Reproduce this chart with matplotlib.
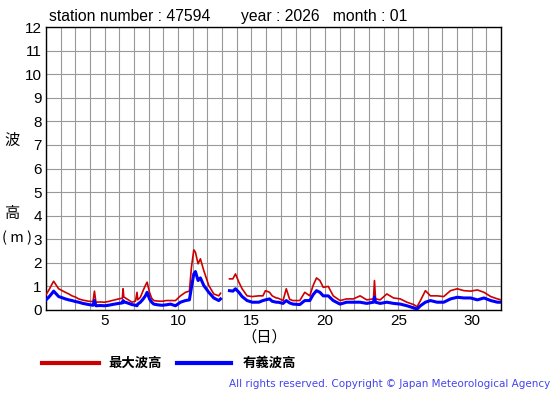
import numpy as np
import matplotlib
matplotlib.use("Agg")
import matplotlib.pyplot as plt

# station 47594, January 2026 (day, metres)
nan = np.nan
days = [1.0, 1.2, 1.41, 1.52, 1.7, 1.86, 2.1, 2.32, 2.55, 2.77, 3.0, 3.23, 3.5, 3.91, 4.2,
        4.3, 4.4, 4.7, 5.0, 5.25, 5.5, 5.95, 6.2, 6.25, 6.3, 6.41, 6.86, 7.1, 7.2, 7.25,
        7.43, 7.6, 7.77, 7.89, 8.05, 8.2, 8.34, 8.6, 8.91, 9.2, 9.48, 9.82, 10.16, 10.5,
        10.77, 10.91, 11.07, 11.18, 11.36, 11.52, 11.75, 12.09, 12.43, 12.77, 12.89, 13.2,
        13.5, 13.73, 13.91, 14.14, 14.36, 14.7, 15.05, 15.5, 15.78, 15.95, 16.23, 16.41,
        16.69, 16.82, 17.15, 17.37, 17.6, 17.83, 18.29, 18.63, 18.97, 19.2, 19.43, 19.66,
        19.89, 20.23, 20.57, 21.03, 21.48, 21.94, 22.4, 22.85, 23.31, 23.38, 23.45, 23.77,
        24.22, 24.68, 25.14, 25.59, 26.05, 26.28, 26.51, 26.85, 27.19, 27.65, 28.1, 28.56,
        29.02, 29.47, 29.93, 30.39, 30.84, 31.3, 31.76, 32.0]

hmax = [0.65, 0.85, 1.1, 1.22, 1.05, 0.9, 0.82, 0.75, 0.68, 0.6, 0.55, 0.47, 0.42, 0.37, 0.36,
        0.8, 0.33, 0.34, 0.33, 0.36, 0.4, 0.47, 0.5, 0.9, 0.55, 0.51, 0.33, 0.38, 0.75, 0.43,
        0.54, 0.8, 1.04, 1.18, 0.75, 0.5, 0.4, 0.38, 0.37, 0.4, 0.4, 0.4, 0.6, 0.75,
        0.8, 1.82, 2.55, 2.45, 1.96, 2.17, 1.67, 1.04, 0.68, 0.6, 0.71, nan,
        1.32, 1.32, 1.53, 1.18, 0.9, 0.6, 0.57, 0.6, 0.6, 0.82, 0.75, 0.6,
        0.51, 0.5, 0.4, 0.9, 0.45, 0.4, 0.4, 0.75, 0.6, 1.04, 1.36, 1.25,
        0.96, 1.0, 0.6, 0.4, 0.47, 0.47, 0.6, 0.43, 0.47, 1.25, 0.47, 0.43,
        0.68, 0.51, 0.47, 0.33, 0.23, 0.14, 0.4, 0.82, 0.6, 0.6, 0.57, 0.82,
        0.9, 0.82, 0.8, 0.85, 0.75, 0.57, 0.47, 0.43]

hsig = [0.43, 0.55, 0.71, 0.8, 0.68, 0.57, 0.52, 0.47, 0.43, 0.4, 0.36, 0.33, 0.28, 0.23, 0.2,
        0.4, 0.18, 0.19, 0.18, 0.2, 0.23, 0.28, 0.3, 0.4, 0.33, 0.33, 0.23, 0.2, 0.18, 0.25,
        0.33, 0.45, 0.6, 0.75, 0.47, 0.33, 0.25, 0.22, 0.2, 0.22, 0.25, 0.18, 0.33, 0.4,
        0.43, 0.96, 1.53, 1.63, 1.25, 1.36, 1.04, 0.75, 0.51, 0.4, 0.47, nan,
        0.82, 0.8, 0.9, 0.75, 0.57, 0.4, 0.33, 0.33, 0.4, 0.43, 0.47, 0.37,
        0.33, 0.33, 0.28, 0.4, 0.3, 0.25, 0.23, 0.4, 0.4, 0.65, 0.82, 0.75,
        0.6, 0.6, 0.4, 0.25, 0.33, 0.33, 0.33, 0.28, 0.33, 0.55, 0.33, 0.28,
        0.33, 0.28, 0.25, 0.18, 0.09, 0.04, 0.18, 0.33, 0.4, 0.33, 0.33, 0.47,
        0.54, 0.51, 0.51, 0.43, 0.51, 0.4, 0.33, 0.33]

xticks = [5, 10, 15, 20, 25, 30]
yticks = list(range(0, 13))

num_font = "Liberation Sans"
jp_font = ["Noto Sans CJK JP", "DejaVu Sans"]

fig = plt.figure(figsize=(5.55, 3.95), dpi=100)
ax = fig.add_axes([0.0829, 0.2152, 0.8198, 0.7164])

ax.plot(days, hmax, color="#cc0000", lw=1.2, zorder=3)
ax.plot(days, hsig, color="#0000ff", lw=2.2, zorder=4)

ax.set_xlim(1, 32)
ax.set_ylim(0, 12)
ax.set_xticks(range(1, 33), minor=True)
ax.set_xticks(xticks)
ax.set_yticks(yticks)
ax.grid(True, which="both", color="#999999", lw=0.8)
ax.tick_params(which="both", length=0, pad=3, labelsize=11)
for lab in ax.get_xticklabels() + ax.get_yticklabels():
    lab.set_fontfamily(num_font)
for sp in ax.spines.values():
    sp.set_color("black")
    sp.set_linewidth(1.0)

fig.text(0.088, 0.957, "station number : 47594       year : 2026   month : 01",
         fontsize=11.3, family=num_font, va="center")

# vertical Japanese y label
fig.text(0.022, 0.645, "波", fontsize=11, family=jp_font, ha="center", va="center")
fig.text(0.022, 0.46, "高", fontsize=11, family=jp_font, ha="center", va="center")
fig.text(0.004, 0.397, "( m )", fontsize=10.5, family=jp_font, ha="left", va="center")
fig.text(0.477, 0.147, "（日）", fontsize=11, family=jp_font, ha="center", va="center")

# legend
fig.add_artist(plt.Line2D([0.076, 0.178], [0.081, 0.081], color="#cc0000", lw=3))
fig.text(0.195, 0.081, "最大波高", fontsize=9.6, family=jp_font, weight="bold", va="center")
fig.add_artist(plt.Line2D([0.319, 0.417], [0.081, 0.081], color="#0000ff", lw=3))
fig.text(0.438, 0.081, "有義波高", fontsize=9.6, family=jp_font, weight="bold", va="center")

fig.text(0.992, 0.028, "All rights reserved. Copyright © Japan Meteorological Agency",
         fontsize=7.5, family="DejaVu Sans", color="#4444ee", ha="right", va="center")

fig.savefig("out.png", dpi=100)
